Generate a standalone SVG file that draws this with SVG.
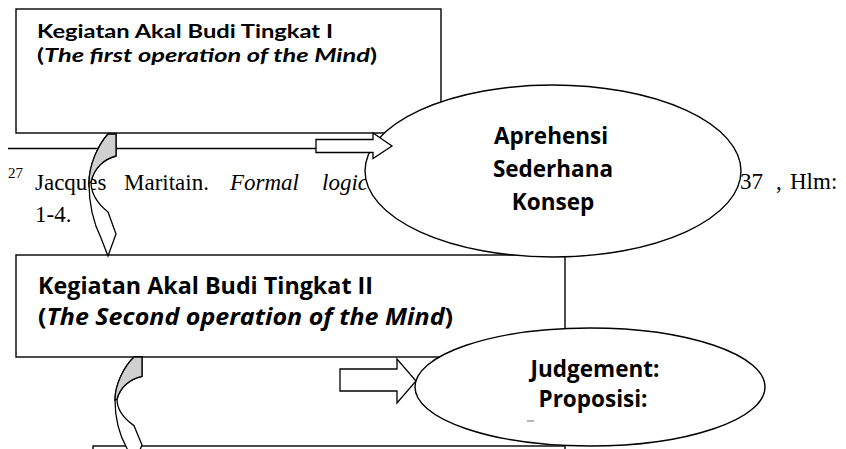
<svg xmlns="http://www.w3.org/2000/svg" width="846" height="449" viewBox="0 0 846 449">
<style>
.box{fill:#fff;stroke:#000;stroke-width:1.4}
.ell{fill:#fff;stroke:#000;stroke-width:1.4}
.ln{fill:none;stroke:#000;stroke-width:1.4}
.blk{fill:#fff;stroke:#000;stroke-width:1.3}
.grey{fill:#d0d0d0;stroke:#000;stroke-width:1.3}
.t1{font-family:Lato,"Open Sans",sans-serif;font-weight:bold;font-size:19px;fill:#000}
.t2{font-family:"Open Sans",Lato,sans-serif;font-weight:bold;font-size:22.5px;fill:#000}
.te{font-family:"Open Sans",Lato,sans-serif;font-weight:bold;font-size:22.5px;fill:#000;text-anchor:middle}
.fn{font-family:"Liberation Serif","Times New Roman",serif;font-size:23px;fill:#000}
.sup{font-family:"Liberation Serif","Times New Roman",serif;font-size:15px;fill:#000}
</style>
<rect width="846" height="449" fill="#fff"/>
<g id="box1">
<rect class="box" x="16" y="9" width="425" height="124"/>
<text class="t1" x="37" y="38" textLength="296" lengthAdjust="spacingAndGlyphs">Kegiatan Akal Budi Tingkat I</text>
<text class="t1" x="37" y="62" textLength="340" lengthAdjust="spacingAndGlyphs">(<tspan font-style="italic">The first operation of the Mind</tspan>)</text>
</g>
<g id="footnote">
<line class="ln" x1="8" y1="148.5" x2="420" y2="148.5"/>
<text class="sup" x="8" y="178">27</text>
<text class="fn" y="190"><tspan x="35">Jacques</tspan><tspan x="124">Maritain.</tspan><tspan x="230" font-style="italic">Formal</tspan><tspan x="322" font-style="italic">logic</tspan></text>
<text class="fn" y="189"><tspan x="740">37</tspan><tspan x="776">,</tspan><tspan x="790">Hlm:</tspan></text>
<text class="fn" x="35" y="222">1-4.</text>
</g>
<g id="box2">
<rect class="box" x="16" y="255" width="549" height="102"/>
<text class="t2" x="38" y="294" textLength="335" lengthAdjust="spacingAndGlyphs">Kegiatan Akal Budi Tingkat II</text>
<text class="t2" x="38" y="325" textLength="415" lengthAdjust="spacingAndGlyphs">(<tspan font-style="italic">The Second operation of the Mind</tspan>)</text>
</g>
<g id="box3">
<rect class="box" x="93" y="446" width="472" height="20"/>
</g>
<g id="ellipse1">
<ellipse class="ell" cx="553" cy="171" rx="188" ry="86"/>
<text class="te" x="551" y="144">Aprehensi</text>
<text class="te" x="553" y="177">Sederhana</text>
<text class="te" x="553" y="210">Konsep</text>
</g>
<g id="ellipse2">
<ellipse class="ell" cx="590" cy="387" rx="175" ry="59"/>
<text class="te" x="595" y="377">Judgement:</text>
<text class="te" x="593" y="407">Proposisi:</text>
<line x1="527" y1="421" x2="534" y2="421" stroke="#888" stroke-width="1.2"/>
</g>
<g id="connectors">
<path class="blk" d="M316,139.5 H373 V133 L392,146 L373,158.5 V152.5 H316 Z"/>
<path class="blk" d="M340,369 H397 V359 L416,381 L397,403 V391 H340 Z"/>
<g id="curved1">
<path class="blk" d="M108,134 C98,145 89,165 89,183 C89,205 93,222 101,238 L108,256 L116,234 L108,212 C98,204 91,193 91,182 C94,168 104,159 116,156 L116,134 Z"/>
<path class="grey" d="M108,134 L116,134 L116,156 C104,159 94,168 91,182 L89,183 C89,165 98,145 108,134 Z"/>
</g>
<g id="curved2" transform="translate(142,357) scale(1,0.88) translate(-116,-134)">
<path class="blk" vector-effect="non-scaling-stroke" d="M108,134 C98,145 89,165 89,183 C89,205 93,222 101,238 L108,256 L116,234 L108,212 C98,204 91,193 91,182 C94,168 104,159 116,156 L116,134 Z"/>
<path class="grey" vector-effect="non-scaling-stroke" d="M108,134 L116,134 L116,156 C104,159 94,168 91,182 L89,183 C89,165 98,145 108,134 Z"/>
</g>
</g>
</svg>
